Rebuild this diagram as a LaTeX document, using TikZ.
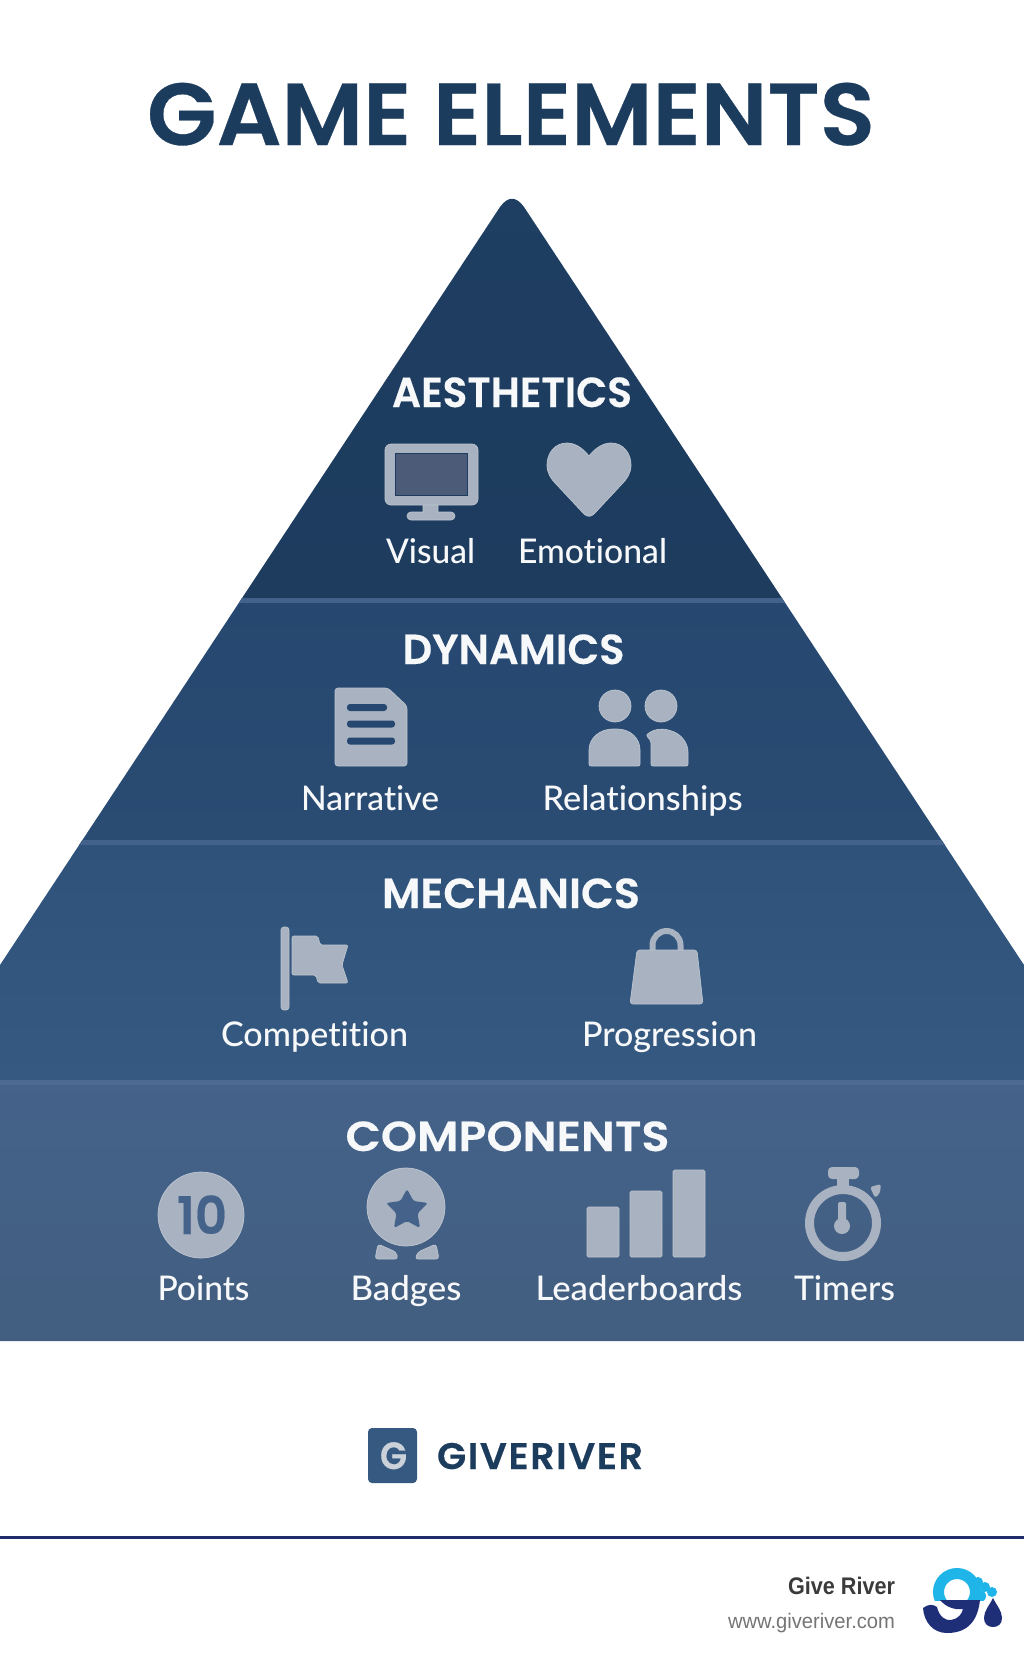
\documentclass[tikz,border=0pt]{standalone}
\usepackage{fontspec}
\usepackage{graphicx}
\setmainfont{Lato Medium}[Ligatures=NoCommon]
\newfontfamily\headfont{Poppins SemiBold}[FakeBold=0.35]
\newfontfamily\smallfont{Liberation Sans}
\definecolor{navy}{HTML}{1C3C5E}
\definecolor{bandA}{HTML}{1E3E62}
\definecolor{bandAb}{HTML}{1D3C5E}
\definecolor{bandB}{HTML}{264870}
\definecolor{bandBb}{HTML}{2A4C73}
\definecolor{bandC}{HTML}{2E5279}
\definecolor{bandCb}{HTML}{355980}
\definecolor{bandD}{HTML}{44628A}
\definecolor{bandDb}{HTML}{425E80}
\definecolor{sep}{HTML}{42628C}
\definecolor{sepd}{HTML}{4D6B90}
\definecolor{icon}{HTML}{A8B2C0}
\definecolor{iconedge}{HTML}{BDC5D0}
\definecolor{screenc}{HTML}{4B5B78}
\definecolor{rulec}{HTML}{1F2D6B}
\definecolor{cyanlogo}{HTML}{1FB5E8}
\definecolor{darklogo}{HTML}{1E2F78}
\definecolor{labelc}{HTML}{F7F8FA}
\newsavebox\fitbox
\newcommand\hfit[2]{\sbox\fitbox{#2}\pgfmathsetmacro\fitratio{#1/\the\wd\fitbox}\scalebox{\fitratio}[1]{\usebox\fitbox}}
\tikzset{
  x=1pt,y=-1pt,
  txt/.style={inner sep=0pt,outer sep=0pt,anchor=base},
  headtxt/.style={txt,text=labelc,font=\headfont\fontsize{42}{42}\selectfont},
  labtxt/.style={txt,text=labelc,font=\fontsize{34}{34}\selectfont},
  ico/.style={fill=icon,draw=iconedge,line width=0.7pt},
  sepline/.style={fill=sep},
}
\begin{document}
\begin{tikzpicture}
\useasboundingbox (0,0) rectangle (1024,1666);
\fill[white] (0,0) rectangle (1024,1666);
\node[txt,text=navy,font=\headfont\fontsize{88}{88}\selectfont] (title) at (511,145) {\hfit{728}{GAME ELEMENTS}};
% pyramid
\begin{scope}
\clip (0,965) -- (500,207) .. controls (508,196) and (516,196) .. (524,207) -- (1024,965) -- (1024,1341) -- (0,1341) -- cycle;
\path[top color=bandA,bottom color=bandAb] (0,180) rectangle (1024,598);
\path[top color=bandB,bottom color=bandBb] (0,598) rectangle (1024,840);
\path[top color=bandC,bottom color=bandCb] (0,840) rectangle (1024,1081);
\path[top color=bandD,bottom color=bandDb] (0,1081) rectangle (1024,1341);
\fill[sepline] (0,598) rectangle (1024,603);
\fill[sepline] (0,840) rectangle (1024,845);
\fill[sepd] (0,1080) rectangle (1024,1085);
\end{scope}
% headings
\node[headtxt] (aes) at (512,407) {\hfit{240}{AESTHETICS}};
\node[headtxt] (dyn) at (513.5,664) {\hfit{222}{DYNAMICS}};
\node[headtxt] (mec) at (511,908) {\hfit{258}{MECHANICS}};
\node[headtxt] (com) at (507.5,1151) {\hfit{324}{COMPONENTS}};
% labels
\node[labtxt] (visual) at (430.5,563) {\hfit{89}{Visual}};
\node[labtxt] (emotional) at (592.5,563) {\hfit{149}{Emotional}};
\node[labtxt] (narrative) at (370,810) {\hfit{138}{Narrative}};
\node[labtxt] (relationships) at (642.5,810) {\hfit{200}{Relationships}};
\node[labtxt] (competition) at (314.5,1046) {\hfit{187}{Competition}};
\node[labtxt] (progression) at (669.5,1046) {\hfit{175}{Progression}};
\node[labtxt] (points) at (203.5,1300) {\hfit{92}{Points}};
\node[labtxt] (badges) at (406,1300) {\hfit{111}{Badges}};
\node[labtxt] (leaderboards) at (639,1300) {\hfit{207}{Leaderboards}};
\node[labtxt] (timers) at (844.5,1300) {\hfit{101}{Timers}};
% monitor
\path[ico,rounded corners=2] (423,500) rectangle (438,515);
\path[ico,rounded corners=4] (407,512) rectangle (455,520);
\fill[icon] (424,500) rectangle (437,513);
\path[ico,rounded corners=6] (385,444) rectangle (478,505);
\path[fill=screenc,draw=bandAb,line width=0.8pt] (395,453.5) rectangle (467,495);
% heart
\path[ico] (589,456) .. controls (582,447) and (574,443) .. (567,443) .. controls (555,443) and (547,453) .. (547,465) .. controls (547,473) and (551,479) .. (556,484) -- (584,514) .. controls (587,517) and (591,517) .. (594,514) -- (622,484) .. controls (627,479) and (631,473) .. (631,465) .. controls (631,453) and (623,443) .. (611,443) .. controls (604,443) and (596,447) .. (589,456) -- cycle;
% document
\path[ico,rounded corners=3] (335,688) -- (388,688) -- (407,706) -- (407,766) -- (335,766) -- cycle;
\foreach \xa/\xb/\yy in {347/387/707.5,347/395/724,347/395/741}{
  \fill[bandB,rounded corners=3] (\xa,\yy-3.5) rectangle (\xb,\yy+3.5);
}
% people
\path[ico] (615,706) circle[radius=16];
\path[ico] (661,706) circle[radius=16];
\path[ico,rounded corners=2] (589,766) -- (589,752) .. controls (589,738) and (600,729) .. (615,729) .. controls (630,729) and (640,738) .. (640,752) -- (640,766) -- cycle;
\path[ico,rounded corners=2] (651,766) -- (651,741) -- (646,735) -- (652,731) .. controls (658,729) and (664,729) .. (668,730) .. controls (680,733) and (688,742) .. (688,754) -- (688,766) -- cycle;
% flag
\path[ico,rounded corners=3] (281,927) rectangle (289,1010);
\path[ico,rounded corners=2] (292,936) -- (318,936) -- (320,945) -- (348,945) -- (342,965) -- (348,983) -- (318,983) -- (316,975) -- (292,975) -- cycle;
% bag
\draw[icon,line width=6pt] (652.5,952) -- (652.5,945) arc[start angle=180,end angle=360,radius=14] -- (680.5,952);
\path[ico,rounded corners=3] (637,950) -- (697,950) -- (703,1004) -- (630,1004) -- cycle;
% points
\path[ico] (201,1215) circle[radius=43];
\node[txt,text=bandD,font=\headfont\fontsize{52}{52}\selectfont] (ten) at (202,1234) {\hfit{50}{10}};
% badge
\path[ico] (406,1207) circle[radius=39];
\path[fill=bandD,rounded corners=2.5] (407,1189) -- (413.5,1201) -- (428,1203) -- (417.5,1213.4) -- (420,1228) -- (407,1221) -- (394,1228) -- (396.5,1213.4) -- (386,1203) -- (400.5,1201) -- cycle;
\path[ico,rounded corners=3] (378,1244) -- (396,1252) -- (398,1259) -- (375,1259) -- cycle;
\path[ico,rounded corners=3] (436,1244) -- (418,1252) -- (415,1259) -- (439,1259) -- cycle;
% bars
\path[ico,rounded corners=1.5] (587,1207) rectangle (619,1257);
\path[ico,rounded corners=1.5] (630,1191) rectangle (662,1257);
\path[ico,rounded corners=1.5] (673,1170) rectangle (705,1257);
% timer
\draw[icon,line width=9pt] (843,1223) circle[radius=33.5];
\fill[icon,rounded corners=4] (828,1167) rectangle (859,1179);
\fill[icon] (837,1178) rectangle (849,1190);
\fill[icon,rounded corners=2.5] (870,1187) -- (881,1184) -- (880,1193) -- (875,1198) -- cycle;
\fill[icon,rounded corners=2] (838,1202) rectangle (846,1222);
\fill[icon] (842,1226) circle[radius=8];
% logo mark
\fill[bandCb,rounded corners=4] (368,1428) rectangle (417,1483);
\node[txt,text=icon!60!white,font=\headfont\fontsize{38}{38}\selectfont] (glogo) at (393.5,1469) {\hfit{27}{G}};
\node[txt,text=navy,font=\headfont\fontsize{37}{37}\addfontfeature{LetterSpace=4}] (brand) at (540,1469) {\hfit{206}{GIVERIVER}};
% rule
\fill[rulec] (0,1535.5) rectangle (1024,1538.5);
% footer
\node[txt,anchor=base east,text=black!77,font=\smallfont\bfseries\fontsize{24}{24}\selectfont] (gr) at (895,1594) {\hfit{107}{Give River}};
\node[txt,anchor=base east,text=black!54,font=\smallfont\fontsize{21}{21}\selectfont] (www) at (895,1628) {\hfit{167}{www.giveriver.com}};
% river logo
\begin{scope}
\clip (920,1560) rectangle (1010,1600);
\draw[cyanlogo,line width=11pt] (957,1592) circle[radius=18.5];
\fill[cyanlogo] (978,1582) circle[radius=5];
\fill[cyanlogo] (985,1587) circle[radius=5];
\fill[cyanlogo] (992,1592) circle[radius=5];
\fill[cyanlogo] (980,1596) circle[radius=6];
\end{scope}
\fill[darklogo] (940,1600) -- (980,1600) .. controls (978,1618) and (970,1633) .. (947,1633) .. controls (933,1633) and (924,1622) .. (923,1608) .. controls (928,1604) and (933,1604) .. (937,1607) .. controls (939,1616) and (945,1621) .. (951,1620) .. controls (958,1619) and (962,1614) .. (963,1609) .. controls (954,1610) and (946,1607) .. cycle;
\fill[darklogo] (993,1598) .. controls (989,1606) and (984,1611) .. (984,1618) .. controls (984,1624) and (988,1627) .. (993,1627) .. controls (998,1627) and (1002,1624) .. (1002,1618) .. controls (1002,1611) and (997,1606) .. (993,1598) -- cycle;
\end{tikzpicture}
\end{document}
